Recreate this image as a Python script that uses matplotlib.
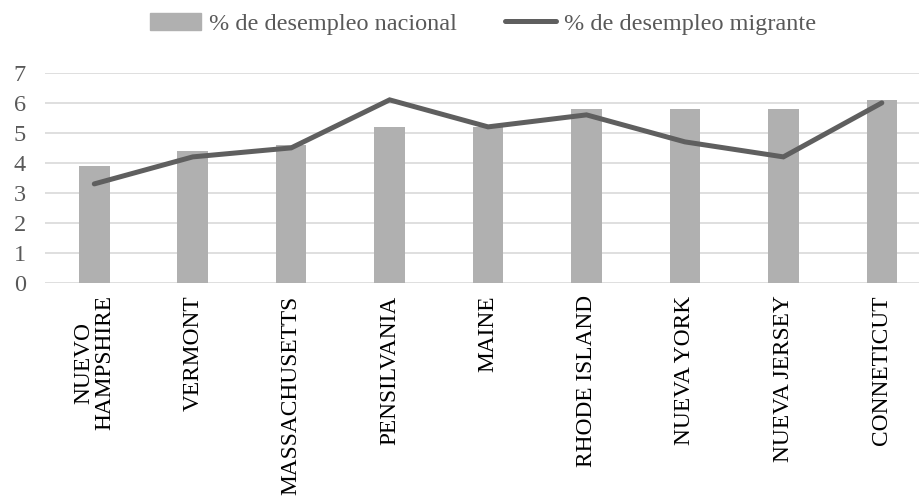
import matplotlib
matplotlib.use("Agg")
import matplotlib.pyplot as plt
from matplotlib.patches import Patch
from matplotlib.lines import Line2D

# data
estados = ["NUEVO\nHAMPSHIRE", "VERMONT", "MASSACHUSETTS", "PENSILVANIA", "MAINE",
           "RHODE ISLAND", "NUEVA YORK", "NUEVA JERSEY", "CONNETICUT"]
desempleo_nacional = [3.9, 4.4, 4.6, 5.2, 5.2, 5.8, 5.8, 5.8, 6.1]
desempleo_migrante = [3.3, 4.2, 4.5, 6.1, 5.2, 5.6, 4.7, 4.2, 6.0]

plt.rcParams["font.family"] = ["Liberation Serif", "DejaVu Serif"]
TXT = "#595959"
FS = 17.5

fig = plt.figure(figsize=(9.2, 4.99), dpi=100)
ax = fig.add_axes([0.049, 0.433, 0.963, 0.421])

x = list(range(len(estados)))
ax.bar(x, desempleo_nacional, width=0.31, color="#b0b0b0", zorder=2)
ax.plot(x, desempleo_migrante, color="#5f5f5f", lw=3.6, solid_capstyle="round",
        solid_joinstyle="miter", zorder=3)

ax.set_xlim(-0.5, 8.5)
ax.set_ylim(0, 7)
ax.set_yticks(range(0, 8))
ax.yaxis.grid(True, color="#d9d9d9", lw=1.2, zorder=0)
ax.set_axisbelow(True)
for s in ax.spines.values():
    s.set_visible(False)
ax.tick_params(axis="both", length=0, colors=TXT)
ax.tick_params(axis="y", labelsize=FS, pad=14)
ax.set_xticks(x)
ax.set_xticklabels(estados, rotation=90, fontsize=16.8, color="black",
                   linespacing=1.0)
ax.tick_params(axis="x", pad=9)

handles = [Patch(color="#b0b0b0"),
           Line2D([0], [0], color="#5f5f5f", lw=3.6, solid_capstyle="round")]
fig.legend(handles, ["% de desempleo nacional", "% de desempleo migrante"],
           loc="upper center", bbox_to_anchor=(0.525, 1.018), ncol=2, frameon=False,
           fontsize=FS, handlelength=2.1, handletextpad=0.3, columnspacing=2.0,
           labelcolor=TXT)

fig.savefig("out.png", dpi=100)
